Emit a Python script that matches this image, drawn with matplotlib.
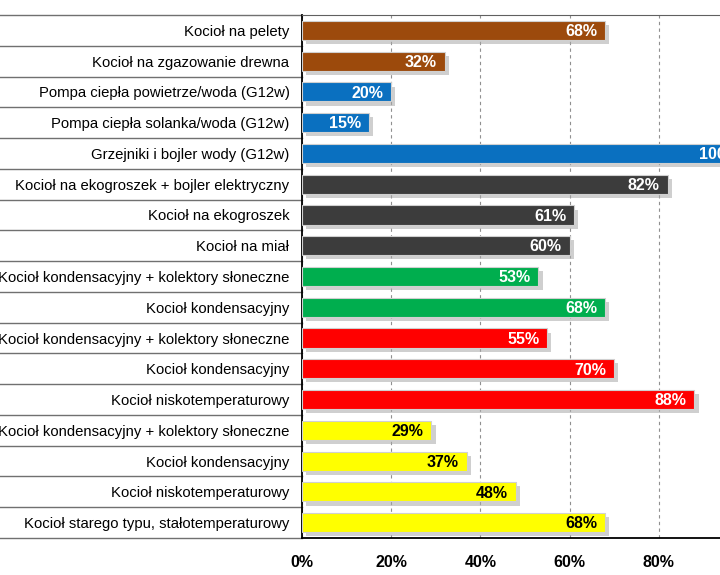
import numpy as np
import matplotlib
matplotlib.use("Agg")
import matplotlib.pyplot as plt
import matplotlib.transforms as mtransforms
import matplotlib.patheffects as pe

plt.rcParams['font.family'] = ['Liberation Sans', 'DejaVu Sans']

labels = [
    "Kocioł na pelety",
    "Kocioł na zgazowanie drewna",
    "Pompa ciepła powietrze/woda (G12w)",
    "Pompa ciepła solanka/woda (G12w)",
    "Grzejniki i bojler wody (G12w)",
    "Kocioł na ekogroszek + bojler elektryczny",
    "Kocioł na ekogroszek",
    "Kocioł na miał",
    "Kocioł kondensacyjny + kolektory słoneczne",
    "Kocioł kondensacyjny",
    "Kocioł kondensacyjny + kolektory słoneczne",
    "Kocioł kondensacyjny",
    "Kocioł niskotemperaturowy",
    "Kocioł kondensacyjny + kolektory słoneczne",
    "Kocioł kondensacyjny",
    "Kocioł niskotemperaturowy",
    "Kocioł starego typu, stałotemperaturowy",
]
values = [68, 32, 20, 15, 100, 82, 61, 60, 53, 68, 55, 70, 88, 29, 37, 48, 68]
groups = ["drewno", "drewno", "prad", "prad", "prad", "wegiel", "wegiel", "wegiel",
          "gaz_ziemny", "gaz_ziemny", "gaz_plynny", "gaz_plynny", "gaz_plynny",
          "olej", "olej", "olej", "olej"]
group_colors = {"drewno": "#9C4A0C", "prad": "#0A70C0", "wegiel": "#3C3C3C",
                "gaz_ziemny": "#00AE4E", "gaz_plynny": "#FF0000", "olej": "#FFFF00"}
xticks = [0, 20, 40, 60, 80]

fig = plt.figure(figsize=(7.2, 5.75), dpi=100)
ax = fig.add_axes([302/720, 37/575, 446/720, 523/575])

n = len(values)
y = np.arange(n)
cols = [group_colors[g] for g in groups]
bars = ax.barh(y, values, height=0.62, color=cols, edgecolor='#D0D0D0',
               linewidth=0.8, zorder=3)
for b in bars:
    b.set_path_effects([pe.SimplePatchShadow(offset=(3, -3), shadow_rgbFace='#A8A8A8', alpha=0.55),
                        pe.Normal()])

ax.set_ylim(n - 0.5, -0.5)
ax.set_xlim(0, 100)
ax.set_yticks(y)
ax.set_yticklabels(labels, fontsize=10.7)
ax.tick_params(axis='y', length=0, pad=9)
ax.set_xticks(xticks)
ax.set_xticklabels([f"{t}%" for t in xticks], fontsize=11.5, fontweight='bold')
ax.tick_params(axis='x', length=0, pad=12)

ax.grid(axis='x', linestyle=(0, (3, 3)), color='#909090', linewidth=0.8, zorder=0)

for s in ['left', 'bottom']:
    ax.spines[s].set_color('black')
    ax.spines[s].set_linewidth(1.3)
ax.spines['top'].set_color('#606060')
ax.spines['right'].set_visible(False)

# separators between category labels
trans = mtransforms.blended_transform_factory(fig.transFigure, ax.transData)
for k in range(n + 1):
    ax.plot([0, 302/720], [k - 0.5, k - 0.5], transform=trans, color='#707070',
            linewidth=1.0, clip_on=False)

for yi, v, g in zip(y, values, groups):
    tc = 'black' if g == "olej" else 'white'
    ax.text(v - 1.8, yi + 0.04, f"{v}%", ha='right', va='center', fontsize=11.5,
            fontweight='bold', color=tc, zorder=5)

fig.savefig("out.png", dpi=100)
